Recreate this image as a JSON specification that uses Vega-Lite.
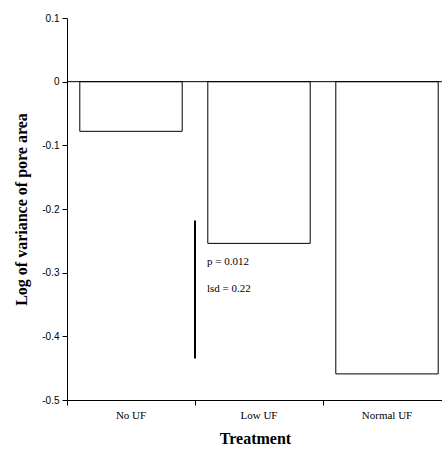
{
  "$schema": "https://vega.github.io/schema/vega-lite/v6.json",
  "autosize": {"type": "none"},
  "padding": {"left": 67, "top": 18, "right": 0, "bottom": 57},
  "width": 375,
  "height": 382,
  "background": "white",
  "config": {
    "view": {"stroke": null},
    "axis": {"grid": false, "domainColor": "black", "tickColor": "black", "labelColor": "black", "titleColor": "black"}
  },
  "datasets": {
    "bars": [
      {"Treatment": "No UF", "value": -0.078},
      {"Treatment": "Low UF", "value": -0.254},
      {"Treatment": "Normal UF", "value": -0.459}
    ],
    "lsd": [{"Treatment": "Low UF", "lo": -0.218, "hi": -0.435}],
    "notes": [
      {"Treatment": "Low UF", "y": -0.284, "label": "p = 0.012"},
      {"Treatment": "Low UF", "y": -0.325, "label": "lsd = 0.22"}
    ]
  },
  "layer": [
    {
      "data": {"name": "bars"},
      "mark": {"type": "bar", "fill": "white", "stroke": "black", "strokeWidth": 1, "width": {"band": 0.8}},
      "encoding": {
        "x": {
          "field": "Treatment", "type": "nominal", "sort": ["No UF", "Low UF", "Normal UF"],
          "scale": {"domain": ["No UF", "Low UF", "Normal UF"], "range": [0, 384], "paddingInner": 0, "paddingOuter": 0},
          "axis": {
            "title": "Treatment", "labelAngle": 0, "bandPosition": 0,
            "labelFont": "Liberation Serif", "labelFontSize": 11, "labelPadding": 4,
            "tickSize": 5, "titleFont": "Liberation Serif", "titleFontSize": 16, "titleFontWeight": "bold",
            "titlePadding": 10, "titleX": 188, "labelBound": false, "labelFlush": false
          }
        },
        "y": {
          "field": "value", "type": "quantitative",
          "scale": {"domain": [-0.5, 0.1], "nice": false, "zero": false},
          "axis": {
            "title": "Log of variance of pore area",
            "values": [-0.5, -0.4, -0.3, -0.2, -0.1, 0, 0.1],
            "labelExpr": "replace(format(datum.value, '.1~f'), '\u2212', '-')",
            "labelFont": "Liberation Sans", "labelFontSize": 10, "tickSize": 5, "labelPadding": 3,
            "titleFont": "Liberation Serif", "titleFontSize": 16, "titleFontWeight": "bold", "titlePadding": 12
          }
        },
        "y2": {"datum": 0}
      }
    },
    {
      "data": {"values": [{"z": 0}]},
      "mark": {"type": "rule", "color": "black", "strokeWidth": 1},
      "encoding": {"y": {"field": "z", "type": "quantitative"}}
    },
    {
      "data": {"name": "lsd"},
      "mark": {"type": "rule", "color": "black", "strokeWidth": 2},
      "encoding": {
        "x": {"field": "Treatment", "type": "nominal", "sort": ["No UF", "Low UF", "Normal UF"], "bandPosition": 0},
        "y": {"field": "lo", "type": "quantitative"},
        "y2": {"field": "hi"}
      }
    },
    {
      "data": {"name": "notes"},
      "mark": {"type": "text", "align": "left", "baseline": "middle", "dx": 12, "font": "Liberation Serif", "fontSize": 11, "color": "black"},
      "encoding": {
        "x": {"field": "Treatment", "type": "nominal", "sort": ["No UF", "Low UF", "Normal UF"], "bandPosition": 0},
        "y": {"field": "y", "type": "quantitative"},
        "text": {"field": "label"}
      }
    }
  ]
}
